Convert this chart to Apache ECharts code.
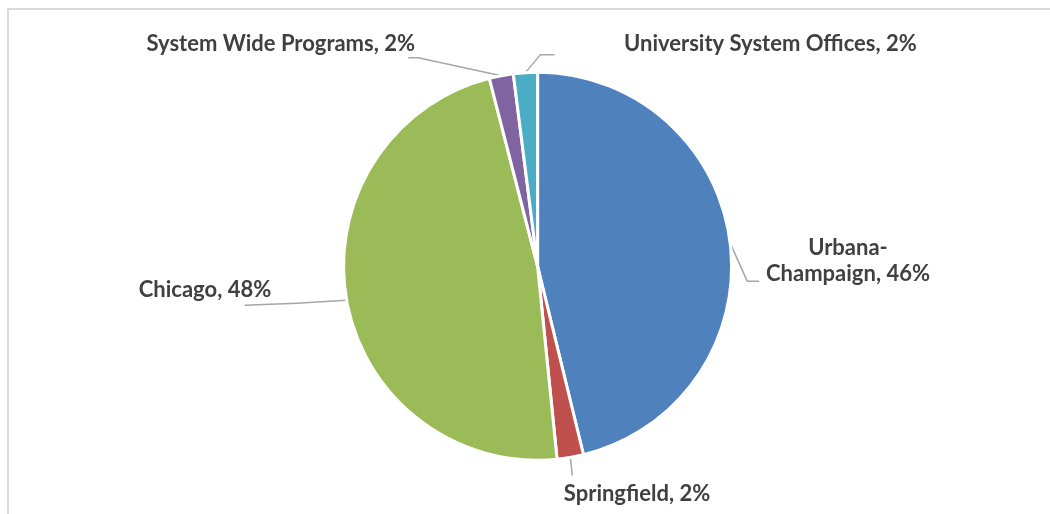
<!DOCTYPE html>
<html>
<head>
<meta charset="utf-8">
<script src="https://cdn.jsdelivr.net/npm/echarts@6/dist/echarts.min.js"></script>
<style>
  html, body { margin: 0; padding: 0; background: #fff; }
  #frame {
    position: absolute; left: 7px; top: 8px; width: 1100px; height: 600px;
    border-top: 2px solid #d9d9d9; border-left: 2px solid #d9d9d9;
  }
  #main { position: absolute; left: 0; top: 0; width: 1050px; height: 514px; }
</style>
</head>
<body>
<div id="frame"></div>
<div id="main"></div>
<script>
// campus shares (labels are rounded)
var campuses = [
  "Urbana-Champaign",
  "Springfield",
  "Chicago",
  "System Wide Programs",
  "University System Offices",
];
var shares = [46.2, 2.2, 47.6, 2.0, 2.0];
var colors = ["#4f81bd", "#c0504d", "#9bbb59", "#8064a2", "#4bacc6"];

// where each label sits (x, y, align) and the bend/end of its leader,
// given as offsets from the point where the leader leaves the pie
var labelSpots = [
  { x: 848, y: 261, align: "center", bend: [17, 38], end: [29, 38] },
  { x: 637, y: 494, align: "center", bend: [2, 18], end: [2, 18] },
  { x: 205, y: 290, align: "center", bend: [-50, 3], end: [-102, 5] },
  { x: 415, y: 44, align: "right", bend: [-83, -18], end: [-93, -18] },
  { x: 624, y: 44, align: "left", bend: [15, -18], end: [29, -18] },
];

var chartDom = document.getElementById("main");
var myChart = echarts.init(chartDom);
var option;

option = {
  animation: false,
  series: [
    {
      type: "pie",
      center: ["51.2%", "51.8%"],
      radius: 194,
      startAngle: 90,
      clockwise: true,
      percentPrecision: 0,
      avoidLabelOverlap: false,
      data: campuses.map(function (name, i) {
        return { name: name, value: shares[i], itemStyle: { color: colors[i] } };
      }),
      itemStyle: {
        borderColor: "#fff",
        borderWidth: 3,
      },
      label: {
        show: true,
        position: "outside",
        fontFamily: "Lato",
        fontWeight: "bold",
        fontSize: 22,
        color: "#404040",
        lineHeight: 26,
        formatter: function (p) {
          return p.name.replace("-", "-\n") + ", " + p.percent + "%";
        },
      },
      labelLine: {
        show: true,
        length: 18,
        length2: 12,
        lineStyle: { color: "#a6a6a6", width: 1.5 },
      },
      labelLayout: function (params) {
        var s = labelSpots[params.dataIndex];
        var a = params.labelLinePoints ? params.labelLinePoints[0] : null;
        var out = {
          x: s.x,
          y: s.y,
          align: s.align,
          verticalAlign: "middle",
          hideOverlap: false,
          moveOverlap: null,
        };
        if (a) {
          out.labelLinePoints = [
            [a[0], a[1]],
            [a[0] + s.bend[0], a[1] + s.bend[1]],
            [a[0] + s.end[0], a[1] + s.end[1]],
          ];
        }
        return out;
      },
    },
  ],
};

option && myChart.setOption(option);
</script>
</body>
</html>
